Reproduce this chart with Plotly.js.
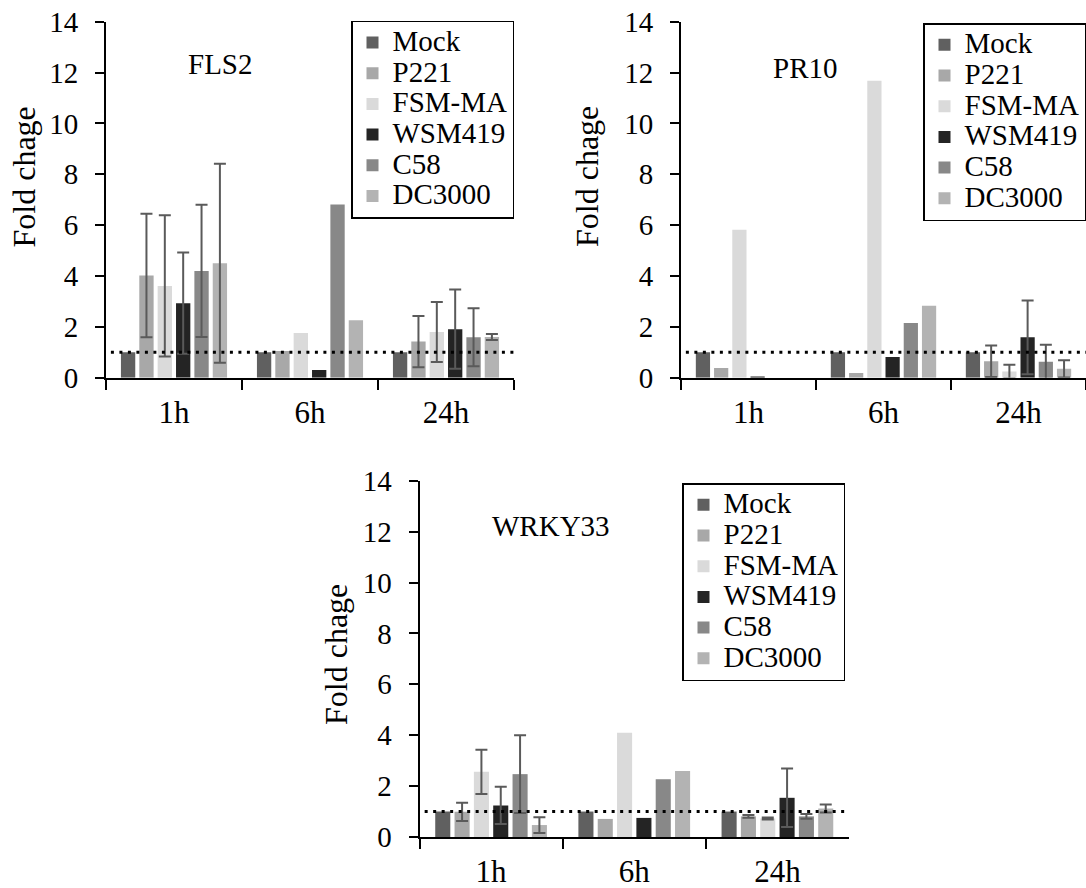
<!DOCTYPE html>
<html>
<head>
<meta charset="utf-8">
<script src="https://cdn.plot.ly/plotly-3.0.1.min.js"></script>
<style>
html,body{margin:0;padding:0;background:#fff;}
#chart{width:1086px;height:888px;}
</style>
</head>
<body>
<div id="chart"></div>
<script>
// ---------- data ----------
const categories = ['1h', '6h', '24h'];
const seriesNames = ['Mock', 'P221', 'FSM-MA', 'WSM419', 'C58', 'DC3000'];
const seriesColors = ['#606060', '#a8a8a8', '#dadada', '#242424', '#888888', '#b3b3b3'];
const baseline = 1;

// FLS2
const fls2Mock   = [1.00, 1.00, 1.00];
const fls2P221   = [4.02, 1.05, 1.42];
const fls2FSM    = [3.61, 1.76, 1.80];
const fls2WSM    = [2.93, 0.30, 1.91];
const fls2C58    = [4.20, 6.81, 1.59];
const fls2DC     = [4.50, 2.26, 1.60];
const fls2MockErr = [NaN, NaN, NaN];
const fls2P221Err = [2.43, NaN, 1.01];
const fls2FSMErr  = [2.78, NaN, 1.18];
const fls2WSMErr  = [1.99, NaN, 1.56];
const fls2C58Err  = [2.60, NaN, 1.14];
const fls2DCErr   = [3.91, NaN, 0.12];

// PR10
const pr10Mock   = [1.00, 1.00, 1.00];
const pr10P221   = [0.38, 0.18, 0.65];
const pr10FSM    = [5.82, 11.68, 0.24];
const pr10WSM    = [0.05, 0.81, 1.59];
const pr10C58    = [0.00, 2.15, 0.63];
const pr10DC     = [0.00, 2.83, 0.35];
const pr10MockErr = [NaN, NaN, NaN];
const pr10P221Err = [NaN, NaN, 0.62];
const pr10FSMErr  = [NaN, NaN, 0.27];
const pr10WSMErr  = [NaN, NaN, 1.45];
const pr10C58Err  = [NaN, NaN, 0.67];
const pr10DCErr   = [NaN, NaN, 0.34];

// WRKY33
const wrkyMock   = [1.00, 1.00, 1.00];
const wrkyP221   = [0.99, 0.71, 0.81];
const wrkyFSM    = [2.56, 4.10, 0.73];
const wrkyWSM    = [1.24, 0.75, 1.54];
const wrkyC58    = [2.47, 2.27, 0.81];
const wrkyDC     = [0.47, 2.59, 1.12];
const wrkyMockErr = [NaN, NaN, NaN];
const wrkyP221Err = [0.36, NaN, 0.05];
const wrkyFSMErr  = [0.87, NaN, 0.04];
const wrkyWSMErr  = [0.73, NaN, 1.15];
const wrkyC58Err  = [1.53, NaN, 0.09];
const wrkyDCErr   = [0.31, NaN, 0.16];

const panels = [
  {gene: 'FLS2', xa: 'x', ya: 'y', legend: 'legend',
   values: [fls2Mock, fls2P221, fls2FSM, fls2WSM, fls2C58, fls2DC],
   errors: [fls2MockErr, fls2P221Err, fls2FSMErr, fls2WSMErr, fls2C58Err, fls2DCErr]},
  {gene: 'PR10', xa: 'x2', ya: 'y2', legend: 'legend2',
   values: [pr10Mock, pr10P221, pr10FSM, pr10WSM, pr10C58, pr10DC],
   errors: [pr10MockErr, pr10P221Err, pr10FSMErr, pr10WSMErr, pr10C58Err, pr10DCErr]},
  {gene: 'WRKY33', xa: 'x3', ya: 'y3', legend: 'legend3',
   values: [wrkyMock, wrkyP221, wrkyFSM, wrkyWSM, wrkyC58, wrkyDC],
   errors: [wrkyMockErr, wrkyP221Err, wrkyFSMErr, wrkyWSMErr, wrkyC58Err, wrkyDCErr]}
];

// ---------- styling ----------
const FONT = 'Liberation Serif';
const W = 1086, H = 888;
const px = v => v / W;
const py = v => 1 - v / H;
const LEGEND_TEXT_PX = 29;   // drawn size of legend labels
const LEGEND_ROW_FONT = 21.3; // sets the row spacing of the legend

const traces = [];
panels.forEach(p => {
  seriesNames.forEach((name, i) => {
    traces.push({
      type: 'bar',
      name: '<span style="font-size:' + LEGEND_TEXT_PX + 'px">' + name + '</span>',
      x: categories,
      y: p.values[i],
      xaxis: p.xa,
      yaxis: p.ya,
      legend: p.legend,
      marker: {color: seriesColors[i], line: {width: 0}},
      error_y: {type: 'data', array: p.errors[i], visible: true,
                color: '#5a5a5a', thickness: 2, width: 6},
      hoverinfo: 'x+y'
    });
  });
});

function yAxis(domain, anchor) {
  return {
    domain: domain, anchor: anchor, range: [0, 14], dtick: 2, tick0: 0,
    showgrid: false, zeroline: false, showline: true, linecolor: '#000', linewidth: 2,
    ticks: 'outside', ticklen: 9, tickwidth: 2, tickcolor: '#000',
    ticklabelstandoff: 11,
    tickfont: {family: FONT, size: 29, color: '#000'}, fixedrange: true
  };
}
function xAxis(domain, anchor) {
  return {
    domain: domain, anchor: anchor, type: 'category',
    showgrid: false, zeroline: false, showline: true, linecolor: '#000', linewidth: 2,
    ticks: 'outside', tickson: 'boundaries', ticklen: 10, tickwidth: 2, tickcolor: '#000',
    ticklabelstandoff: 6,
    tickfont: {family: FONT, size: 31, color: '#000'}, fixedrange: true
  };
}
function legendAt(xRight, yTop) {
  return {
    x: px(xRight), y: py(yTop), xanchor: 'right', yanchor: 'top',
    xref: 'paper', yref: 'paper',
    bgcolor: '#fff', bordercolor: '#000', borderwidth: 1.5,
    font: {family: FONT, size: LEGEND_ROW_FONT, color: '#000'},
    itemwidth: 30, tracegroupgap: 0, traceorder: 'normal'
  };
}
function label(text, x, y, size, angle) {
  return {text: text, x: px(x), y: py(y), xref: 'paper', yref: 'paper', showarrow: false,
          xanchor: 'center', yanchor: 'middle', textangle: angle || 0,
          font: {family: FONT, size: size, color: '#000'}};
}

const layout = {
  width: W, height: H,
  margin: {l: 0, r: 0, t: 0, b: 0},
  paper_bgcolor: '#fff', plot_bgcolor: '#fff',
  barmode: 'group', bargap: 0.19, bargroupgap: 0.22,
  font: {family: FONT, color: '#000'},
  xaxis:  xAxis([px(106), px(514)], 'y'),
  yaxis:  yAxis([py(377.7), py(21.7)], 'x'),
  xaxis2: xAxis([px(681), 1], 'y2'),
  yaxis2: yAxis([py(377.7), py(21.7)], 'x2'),
  xaxis3: xAxis([px(419.5), px(849)], 'y3'),
  yaxis3: yAxis([py(837), py(480.7)], 'x3'),
  legend:  legendAt(514, 20.7),
  legend2: legendAt(1086, 23),
  legend3: legendAt(845, 483),
  shapes: ['x', 'x2', 'x3'].map((xa, k) => ({
    type: 'line', xref: xa + ' domain', yref: ['y', 'y2', 'y3'][k],
    x0: 0.012, x1: 1, y0: baseline, y1: baseline, layer: 'above',
    line: {color: '#000', width: 3, dash: '3px,5.5px'}
  })),
  annotations: [
    label('FLS2', 220, 64, 29),
    label('PR10', 805, 68, 29),
    label('WRKY33', 551, 526, 29),
    label('Fold chage', 23, 177.5, 32, -90),
    label('Fold chage', 587, 177, 32, -90),
    label('Fold chage', 336, 655, 32, -90)
  ]
};

Plotly.newPlot('chart', traces, layout, {displayModeBar: false, staticPlot: true});
</script>
</body>
</html>
